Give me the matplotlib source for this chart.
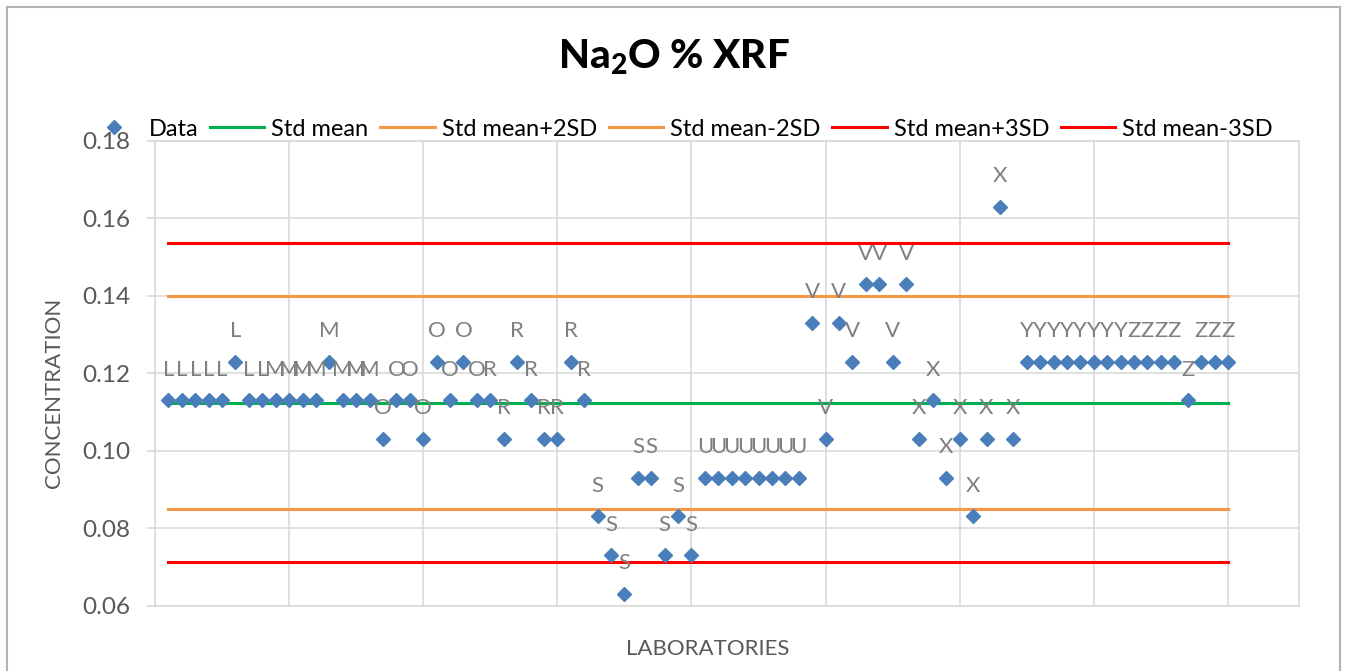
import matplotlib
matplotlib.use("Agg")
import matplotlib.pyplot as plt
import numpy as np
from matplotlib.lines import Line2D

# lab codes and Na2O results
lab_codes = list("LLLLLLLL" "MMMMMMMM" "OOOOOOOO" "RRRRRRRR" "SSSSSSSS"
                 "UUUUUUUU" "VVVVVVVV" "XXXXXXXX" "YYYYYYYY" "ZZZZZZZZ")
values = [0.113, 0.113, 0.113, 0.113, 0.113, 0.123, 0.113, 0.113,
          0.113, 0.113, 0.113, 0.113, 0.123, 0.113, 0.113, 0.113,
          0.103, 0.113, 0.113, 0.103, 0.123, 0.113, 0.123, 0.113,
          0.113, 0.103, 0.123, 0.113, 0.103, 0.103, 0.123, 0.113,
          0.083, 0.073, 0.063, 0.093, 0.093, 0.073, 0.083, 0.073,
          0.093, 0.093, 0.093, 0.093, 0.093, 0.093, 0.093, 0.093,
          0.133, 0.103, 0.133, 0.123, 0.143, 0.143, 0.123, 0.143,
          0.103, 0.113, 0.093, 0.103, 0.083, 0.103, 0.163, 0.103,
          0.123, 0.123, 0.123, 0.123, 0.123, 0.123, 0.123, 0.123,
          0.123, 0.123, 0.123, 0.123, 0.113, 0.123, 0.123, 0.123]
std_mean = 0.1124
std_sd = 0.0137

x = np.arange(1, len(values) + 1)
n = len(values)

plt.rcParams['font.family'] = ['Lato', 'DejaVu Sans']
plt.rcParams['mathtext.fontset'] = 'custom'
plt.rcParams['mathtext.rm'] = 'Lato:black'
plt.rcParams['mathtext.bf'] = 'Lato:black'

W, H = 1349, 671
fig = plt.figure(figsize=(W / 100, H / 100), dpi=100)
ax = fig.add_axes([155 / W, 1 - 605.5 / H, (1299 - 155) / W, (605.5 - 140.8) / H])

grid_col = '#d9d9d9'
txt_gray = '#595959'

lines = [
    ('Std mean', std_mean, '#00b050'),
    ('Std mean+2SD', std_mean + 2 * std_sd, '#f79646'),
    ('Std mean-2SD', std_mean - 2 * std_sd, '#f79646'),
    ('Std mean+3SD', std_mean + 3 * std_sd, '#ff0000'),
    ('Std mean-3SD', std_mean - 3 * std_sd, '#ff0000'),
]

handles = []
pts, = ax.plot(x, values, 'D', color='#4a7ebb', markersize=7, linestyle='none',
               label='Data', zorder=4)
handles.append(pts)
for name, level, col in lines:
    ln, = ax.plot(x, np.full(n, level), color=col, lw=2.2, label=name, zorder=3)
    handles.append(ln)

for xi, yi, code in zip(x, values, lab_codes):
    ax.annotate(code, (xi, yi), xytext=(0, 22), textcoords='offset points',
                ha='center', va='center', fontsize=16, color='#7f7f7f', zorder=5)

ax.set_xlim(0, 85.3)
ax.set_ylim(0.06, 0.18)
ax.set_xticks(np.arange(0, 81, 10))
ax.set_yticks(np.arange(0.06, 0.181, 0.02))
ax.yaxis.set_major_formatter(matplotlib.ticker.FormatStrFormatter('%.2f'))
ax.grid(True, color=grid_col, lw=1.2, zorder=0)
ax.set_axisbelow(True)
ax.tick_params(axis='x', length=0, labelbottom=False)
ax.tick_params(axis='y', length=6, width=1.2, color=grid_col, pad=12,
               labelsize=17.5, labelcolor=txt_gray)
for sp in ax.spines.values():
    sp.set_color(grid_col)
    sp.set_linewidth(1.2)

fig.text(674 / W, 1 - 57 / H, r'Na$_\mathbf{2}$O % XRF', ha='center', va='center',
         fontsize=29, fontweight='black', color='black')
fig.text(54 / W, 1 - 393 / H, 'CONCENTRATION', rotation=90, ha='center', va='center',
         fontsize=16, color=txt_gray)
fig.text(708 / W, 1 - 649 / H, 'LABORATORIES', ha='center', va='center',
         fontsize=16, color=txt_gray)

fig.legend(handles=handles, loc='center', bbox_to_anchor=(680 / W, 1 - 129 / H),
           ncol=6, frameon=False, fontsize=17, handlelength=2.3, handletextpad=0.3,
           columnspacing=0.5, borderpad=0, numpoints=1)

# chart area border
bx0, bx1, by0 = 7 / W, 1340 / W, 1 - 7 / H
for xs, ys in [((bx0, bx0), (0, by0)), ((bx0, bx1), (by0, by0)), ((bx1, bx1), (by0, 0))]:
    fig.add_artist(Line2D(xs, ys, color='#b3b3b3', lw=1.5, transform=fig.transFigure))

fig.savefig('out.png', dpi=100)
